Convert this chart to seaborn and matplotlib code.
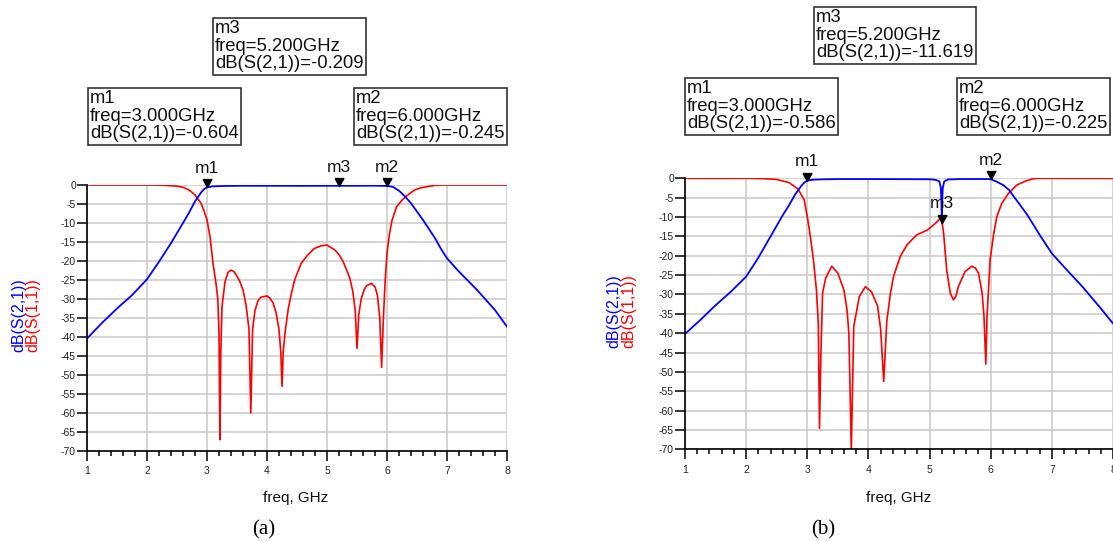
import matplotlib
matplotlib.use("Agg")
import matplotlib.pyplot as plt
import seaborn as sns
import numpy as np
import pandas as pd
from matplotlib.ticker import MultipleLocator

# ---------------- data ----------------
# (a) S21 (blue)
a_s21_f = [1.0, 1.25, 1.5, 1.75, 2.0, 2.2, 2.4, 2.6, 2.7, 2.8, 2.9, 2.95, 3.0, 3.1, 3.3, 3.6,
           4.0, 4.5, 5.0, 5.2, 5.5, 5.8, 6.0, 6.1, 6.2, 6.3, 6.4, 6.5, 6.6, 6.7, 6.8, 6.9,
           7.0, 7.2, 7.5, 7.8, 8.0]
a_s21_db = [-40.4, -36.3, -32.5, -29.0, -24.8, -20.2, -15.3, -10.0, -7.3, -4.3, -2.0, -1.1, -0.604,
            -0.35, -0.25, -0.2, -0.2, -0.22, -0.2, -0.209, -0.2, -0.18, -0.245, -0.5, -1.5, -3.0,
            -4.8, -7.0, -9.2, -11.6, -14.0, -16.8, -19.3, -22.8, -27.6, -32.9, -37.3]
# (a) S11 (red)
a_s11_f = [1.0, 2.1, 2.3, 2.5, 2.6, 2.7, 2.8, 2.9, 2.95, 3.0, 3.05, 3.1, 3.15, 3.18, 3.2, 3.215,
           3.23, 3.25, 3.3, 3.35, 3.4, 3.45, 3.5, 3.55, 3.6, 3.65, 3.7, 3.73, 3.76, 3.8, 3.85,
           3.9, 4.0, 4.05, 4.1, 4.15, 4.2, 4.23, 4.25, 4.27, 4.3, 4.35, 4.4, 4.46, 4.57, 4.68,
           4.79, 4.9, 5.0, 5.13, 5.2, 5.27, 5.33, 5.38, 5.43, 5.47, 5.5, 5.53, 5.57, 5.62, 5.66,
           5.74, 5.8, 5.84, 5.88, 5.91, 5.94, 5.97, 6.0, 6.04, 6.08, 6.16, 6.25, 6.31, 6.4, 6.46,
           6.55, 6.68, 6.8, 6.9, 8.0]
a_s11_db = [0.0, 0.0, -0.1, -0.3, -0.6, -1.3, -2.6, -4.8, -6.8, -9.2, -13.6, -20.6, -25.9, -30.0,
            -39.0, -67.0, -44.0, -32.0, -25.5, -23.0, -22.4, -22.8, -24.0, -25.5, -27.6, -31.5,
            -38.0, -60.0, -38.0, -33.0, -30.5, -29.5, -29.2, -29.8, -31.0, -33.5, -38.0, -44.0,
            -53.0, -44.0, -39.0, -33.0, -29.0, -25.0, -20.6, -18.4, -16.7, -16.0, -15.8, -17.1,
            -18.3, -20.2, -22.5, -24.5, -28.0, -33.0, -43.0, -34.0, -30.0, -27.5, -26.5, -25.9,
            -26.8, -29.0, -35.0, -48.0, -35.0, -25.0, -18.0, -13.0, -9.5, -5.7, -4.0, -3.1, -2.0,
            -1.3, -0.8, -0.4, -0.1, 0.0, 0.0]
# (b) S21 (blue)
b_s21_f = [1.0, 1.25, 1.5, 1.75, 2.0, 2.2, 2.4, 2.6, 2.7, 2.8, 2.9, 2.95, 3.0, 3.1, 3.3, 3.6,
           4.0, 4.5, 5.0, 5.1, 5.16, 5.185, 5.195, 5.2, 5.205, 5.215, 5.24, 5.3, 5.5, 5.8, 6.0,
           6.1, 6.2, 6.3, 6.4, 6.5, 6.6, 6.8, 7.0, 7.2, 7.5, 7.8, 8.0]
b_s21_db = [-40.2, -36.6, -32.8, -29.3, -25.4, -20.5, -15.0, -9.5, -7.0, -4.2, -2.0, -1.1, -0.586,
            -0.35, -0.25, -0.2, -0.2, -0.22, -0.25, -0.4, -0.8, -2.5, -7.0, -11.619, -7.0, -2.5,
            -0.8, -0.3, -0.2, -0.18, -0.225, -0.9, -1.7, -3.0, -5.2, -7.3, -9.5, -14.6, -19.4,
            -22.9, -28.0, -33.6, -37.5]
# (b) S11 (red)
b_s11_f = [1.0, 2.1, 2.3, 2.5, 2.7, 2.85, 2.95, 3.0, 3.05, 3.1, 3.15, 3.18, 3.2, 3.22, 3.25, 3.3,
           3.4, 3.5, 3.6, 3.65, 3.68, 3.72, 3.76, 3.85, 3.95, 4.05, 4.15, 4.2, 4.25, 4.3, 4.36,
           4.41, 4.52, 4.63, 4.79, 4.96, 5.07, 5.15, 5.19, 5.23, 5.28, 5.34, 5.39, 5.43, 5.47,
           5.58, 5.69, 5.75, 5.80, 5.86, 5.89, 5.92, 5.94, 5.99, 6.05, 6.10, 6.18, 6.29, 6.43,
           6.59, 6.7, 6.8, 8.0]
b_s11_db = [0.0, 0.0, -0.1, -0.3, -1.1, -2.8, -5.6, -9.9, -15.0, -21.0, -28.9, -37.5, -64.6, -47.0,
            -29.7, -25.8, -22.7, -24.5, -28.9, -34.0, -40.0, -70.0, -38.3, -30.6, -28.0, -29.3,
            -33.0, -39.0, -52.5, -37.0, -29.7, -25.4, -20.2, -17.2, -14.6, -13.4, -12.0, -10.8,
            -9.9, -14.2, -23.7, -29.7, -31.4, -30.5, -28.0, -24.1, -22.7, -23.2, -24.5, -29.7,
            -35.7, -48.0, -35.7, -21.0, -14.2, -9.9, -6.5, -3.9, -1.7, -0.6, -0.1, 0.0, 0.0]

# markers: (name, freq, value)
a_markers = [("m1", 3.0, -0.604), ("m3", 5.2, -0.209), ("m2", 6.0, -0.245)]
b_markers = [("m1", 3.0, -0.586), ("m3", 5.2, -11.619), ("m2", 6.0, -0.225)]

x_ticks = [1, 2, 3, 4, 5, 6, 7, 8]
y_ticks = list(range(-70, 1, 5))

# ---------------- figure ----------------
W, H = 1113, 541
sns.set_theme(style="white")
plt.rcParams["font.family"] = ["Liberation Sans", "DejaVu Sans"]
plt.rcParams["axes.unicode_minus"] = False

fig = plt.figure(figsize=(W / 100, H / 100), dpi=100)

def fx(px):
    return px / W

def fy(py):
    return 1 - py / H

BLUE = "#0000ff"
RED = "#ff0000"

tri = [(-0.55, 1.0), (0.55, 1.0), (0.0, 0.0), (-0.55, 1.0)]

def make_axes(rect, s21f, s21d, s11f, s11d, markers, m3_label_offset):
    ax = fig.add_axes(rect)
    df21 = pd.DataFrame({"freq": s21f, "db": s21d})
    df11 = pd.DataFrame({"freq": s11f, "db": s11d})
    sns.lineplot(data=df11, x="freq", y="db", ax=ax, color=RED, lw=1.2,
                 estimator=None, sort=False)
    sns.lineplot(data=df21, x="freq", y="db", ax=ax, color=BLUE, lw=1.3,
                 estimator=None, sort=False)
    ax.set_xlim(1, 8)
    ax.set_ylim(-70, 0)
    ax.set_xticks(x_ticks)
    ax.set_yticks(y_ticks)
    ax.xaxis.set_minor_locator(MultipleLocator(0.2))
    ax.grid(True, which="major", color="#c8c8c8", lw=1.1)
    ax.grid(False, which="minor")
    ax.set_axisbelow(True)
    for s in ["top", "right"]:
        ax.spines[s].set_visible(False)
    for s in ["left", "bottom"]:
        ax.spines[s].set_color("black")
        ax.spines[s].set_linewidth(1.2)
    ax.tick_params(axis="both", which="both", bottom=True, left=True, top=False, right=False)
    ax.tick_params(axis="both", which="major", direction="out", length=7, width=1.1,
                   color="black", labelsize=7.5, labelcolor="#222222")
    ax.tick_params(axis="x", which="major", pad=4)
    ax.tick_params(axis="y", which="major", pad=1)
    ax.tick_params(axis="x", which="minor", direction="out", length=3.8, width=1.1,
                   color="black")
    ax.tick_params(axis="y", which="minor", left=False)
    ax.set_xlabel("")
    ax.set_ylabel("")
    for name, f, v in markers:
        ax.plot([f], [v], marker=tri, color="black", markersize=11.5, clip_on=False,
                zorder=6, ls="none")
        off = m3_label_offset if name == "m3" else 13.5
        ax.annotate(name, (f, v), xytext=(0, off), textcoords="offset points",
                    ha="center", va="center", fontsize=12.5, color="#111111",
                    annotation_clip=False, zorder=7)
    return ax

ax_a = make_axes([fx(87), fy(451), 420 / W, 266 / H], a_s21_f, a_s21_db, a_s11_f, a_s11_db,
                 a_markers, 13.5)
ax_b = make_axes([fx(685), fy(449.3), 428 / W, 271 / H], b_s21_f, b_s21_db, b_s11_f, b_s11_db,
                 b_markers, 14.0)

# y labels (two colours)
for xb, xr, yc in [(19, 33, 315), (614, 629, 311)]:
    fig.text(fx(xb), fy(yc), "dB(S(2,1))", color=BLUE, rotation=90, ha="center",
             va="center", fontsize=11.5)
    fig.text(fx(xr), fy(yc), "dB(S(1,1))", color=RED, rotation=90, ha="center",
             va="center", fontsize=11.5)

# x labels
fig.text(fx(296), fy(498), "freq, GHz", ha="center", va="center", fontsize=11, color="#111111")
fig.text(fx(899), fy(498), "freq, GHz", ha="center", va="center", fontsize=11, color="#111111")

# panel labels
fig.text(fx(264), fy(530), "(a)", ha="center", va="center", fontsize=15,
         family=["Liberation Serif", "DejaVu Serif"], color="black")
fig.text(fx(823), fy(530), "(b)", ha="center", va="center", fontsize=15,
         family=["Liberation Serif", "DejaVu Serif"], color="black")

# marker readout boxes
box_kw = dict(boxstyle="square,pad=0.12", fc="white", ec="#333333", lw=1.2)

def readout(px, py, name, f, v):
    txt = f"{name}\nfreq={f:.3f}GHz\ndB(S(2,1))={v:.3f}"
    fig.text(fx(px), fy(py), txt, ha="left", va="top", fontsize=13.3, linespacing=1.05,
             color="#111111", bbox=box_kw)

readout(215, 20, "m3", 5.2, -0.209)
readout(90, 90, "m1", 3.0, -0.604)
readout(356, 90, "m2", 6.0, -0.245)
readout(816, 9, "m3", 5.2, -11.619)
readout(687, 80, "m1", 3.0, -0.586)
readout(959, 80, "m2", 6.0, -0.225)

fig.savefig("out.png", dpi=100)
